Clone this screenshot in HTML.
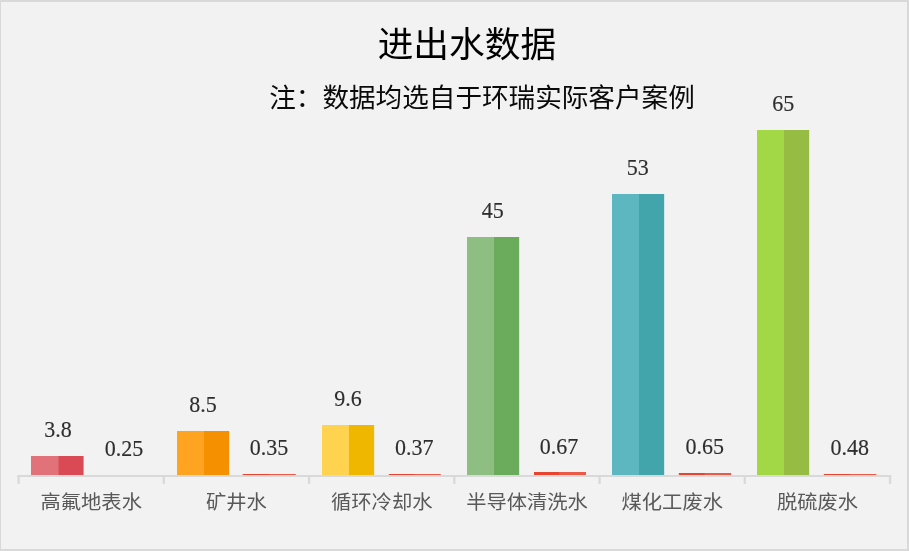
<!DOCTYPE html>
<html lang="zh-CN">
<head>
<meta charset="utf-8">
<title>进出水数据</title>
<style>
html,body{margin:0;padding:0;background:#f2f2f2;}
body{width:909px;height:551px;overflow:hidden;position:relative;}
svg{position:absolute;left:0;top:0;display:block;}
.t{font-family:"Liberation Sans","Noto Sans CJK SC",sans-serif;font-weight:400;}
.n{font-family:"Liberation Serif","Noto Serif CJK SC",serif;font-size:22px;fill:#2e2e2e;stroke:#2e2e2e;stroke-width:0.15px;}
.c{font-family:"Liberation Sans","Noto Sans CJK SC",sans-serif;font-size:20.3px;fill:#595959;}
</style>
</head>
<body>
<svg width="909" height="551" viewBox="0 0 909 551">
<rect x="0" y="0" width="909" height="551" fill="#d9d9d9"/>
<rect x="1" y="2" width="906" height="547" fill="#f2f2f2"/>
<text class="t" x="466.9" y="56.8" font-size="35.7" text-anchor="middle" fill="#000000">进出水数据</text>
<text class="t" x="482" y="106.5" font-size="26.6" text-anchor="middle" fill="#0a0a0a">注：数据均选自于环瑞实际客户案例</text>
<rect x="31" y="456" width="52.4" height="19" fill="#e17279"/><rect x="58.60" y="456" width="24.80" height="19" fill="#d94a55"/>
<rect x="177" y="431" width="52.1" height="44" fill="#ffa421"/><rect x="204.00" y="431" width="25.10" height="44" fill="#f59000"/>
<rect x="242.8" y="474" width="53.00" height="1" fill="#ea5a47"/><rect x="242.8" y="474" width="26.20" height="1" fill="#e8432e"/>
<rect x="322" y="425" width="52.1" height="50" fill="#ffd34f"/><rect x="349.00" y="425" width="25.10" height="50" fill="#f0b700"/>
<rect x="388.9" y="474" width="51.90" height="1" fill="#ea5a47"/><rect x="388.9" y="474" width="25.40" height="1" fill="#e8432e"/>
<rect x="467" y="237" width="52.1" height="238" fill="#8fbe82"/><rect x="494.00" y="237" width="25.10" height="238" fill="#6bab5c"/>
<rect x="534" y="472" width="52.00" height="3" fill="#ea5a47"/><rect x="534" y="472" width="25.20" height="3" fill="#e8432e"/>
<rect x="612" y="194" width="52.1" height="281" fill="#5db7c0"/><rect x="639.00" y="194" width="25.10" height="281" fill="#43a5ac"/>
<rect x="678.9" y="473" width="52.30" height="2" fill="#ea5a47"/><rect x="678.9" y="473" width="25.70" height="2" fill="#e8432e"/>
<rect x="757" y="130" width="52.1" height="345" fill="#a2d846"/><rect x="784.00" y="130" width="25.10" height="345" fill="#97bc44"/>
<rect x="823.9" y="474" width="52.50" height="1" fill="#ea5a47"/><rect x="823.9" y="474" width="26.10" height="1" fill="#e8432e"/>
<rect x="17.45" y="475" width="873.75" height="2" fill="#d9d9d9"/>
<rect x="17.45" y="475" width="2.3" height="8.9" fill="#d9d9d9"/><rect x="162.69" y="475" width="2.3" height="8.9" fill="#d9d9d9"/><rect x="307.93" y="475" width="2.3" height="8.9" fill="#d9d9d9"/><rect x="453.17" y="475" width="2.3" height="8.9" fill="#d9d9d9"/><rect x="598.41" y="475" width="2.3" height="8.9" fill="#d9d9d9"/><rect x="743.65" y="475" width="2.3" height="8.9" fill="#d9d9d9"/><rect x="888.89" y="475" width="2.3" height="8.9" fill="#d9d9d9"/>
<text class="n" transform="translate(58.10,437.2) scale(1,1.06)" text-anchor="middle">3.8</text><text class="n" transform="translate(124.05,456.0) scale(1,1.06)" text-anchor="middle">0.25</text><text class="c" transform="translate(91.22,509.0) scale(1,0.955)" text-anchor="middle">高氟地表水</text>
<text class="n" transform="translate(202.90,412.3) scale(1,1.06)" text-anchor="middle">8.5</text><text class="n" transform="translate(269.10,455.3) scale(1,1.06)" text-anchor="middle">0.35</text><text class="c" transform="translate(236.47,509.0) scale(1,0.955)" text-anchor="middle">矿井水</text>
<text class="n" transform="translate(348.05,406.4) scale(1,1.06)" text-anchor="middle">9.6</text><text class="n" transform="translate(414.25,455.2) scale(1,1.06)" text-anchor="middle">0.37</text><text class="c" transform="translate(381.73,509.0) scale(1,0.955)" text-anchor="middle">循环冷却水</text>
<text class="n" transform="translate(492.70,218) scale(1,1.06)" text-anchor="middle">45</text><text class="n" transform="translate(559.05,453.9) scale(1,1.06)" text-anchor="middle">0.67</text><text class="c" transform="translate(526.98,509.0) scale(1,0.955)" text-anchor="middle">半导体清洗水</text>
<text class="n" transform="translate(637.85,174.9) scale(1,1.06)" text-anchor="middle">53</text><text class="n" transform="translate(704.65,453.9) scale(1,1.06)" text-anchor="middle">0.65</text><text class="c" transform="translate(672.23,509.0) scale(1,0.955)" text-anchor="middle">煤化工废水</text>
<text class="n" transform="translate(783.30,110.8) scale(1,1.06)" text-anchor="middle">65</text><text class="n" transform="translate(849.70,455.3) scale(1,1.06)" text-anchor="middle">0.48</text><text class="c" transform="translate(817.48,509.0) scale(1,0.955)" text-anchor="middle">脱硫废水</text>
</svg>
</body>
</html>
